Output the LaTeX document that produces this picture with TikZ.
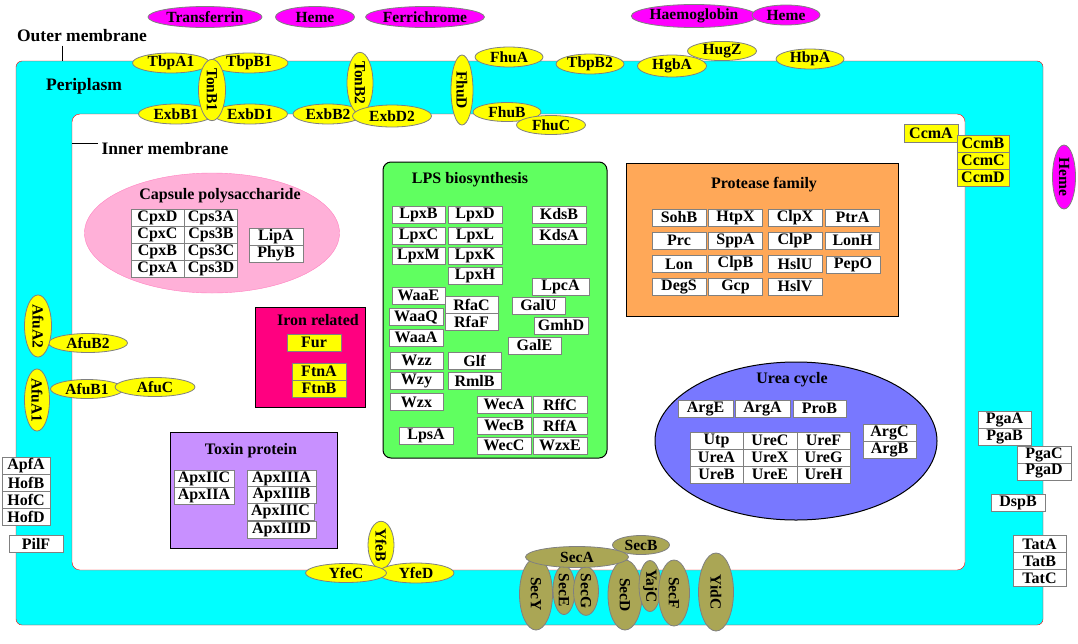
\documentclass[tikz,border=0pt]{standalone}
\usepackage{fontspec}
\setmainfont{Liberation Serif}
\usetikzlibrary{shapes.geometric}
\definecolor{peri}{RGB}{0,255,255}
\definecolor{protyellow}{RGB}{255,255,0}
\definecolor{ligmagenta}{RGB}{255,0,255}
\definecolor{capspink}{RGB}{255,176,216}
\definecolor{capsline}{RGB}{255,128,192}
\definecolor{ironred}{RGB}{255,0,128}
\definecolor{lpsgreen}{RGB}{96,255,96}
\definecolor{protorange}{RGB}{255,168,88}
\definecolor{toxpurple}{RGB}{200,144,255}
\definecolor{ureablue}{RGB}{120,120,255}
\definecolor{secolive}{RGB}{170,166,85}
\definecolor{rimgray}{RGB}{128,128,128}
\newcommand{\elfont}{\bfseries\fontsize{15.5}{15.5}\selectfont}
\newcommand{\bxfont}{\bfseries\fontsize{16}{16}\selectfont}
\newcommand{\hdfont}{\bfseries\fontsize{17.5}{17.5}\selectfont}
\begin{document}
\begin{tikzpicture}[x=1pt,y=-1pt,
  prot/.style={ellipse,draw=rimgray,fill=protyellow,line width=0.8pt,inner sep=0pt,minimum height=20pt,font=\elfont},
  vprot/.style={prot,rotate=-90},
  ligand/.style={ellipse,draw=rimgray,fill=ligmagenta,line width=0.8pt,inner sep=0pt,minimum height=21pt,font=\elfont},
  secp/.style={ellipse,draw=rimgray,fill=secolive,line width=0.8pt,inner sep=0pt,font=\elfont},
  genebox/.style={draw=rimgray,fill=white,line width=0.8pt,inner sep=0pt,minimum width=53pt,minimum height=17pt,font=\bxfont},
  ygenebox/.style={genebox,fill=protyellow},
  grptitle/.style={font=\bxfont},
  grpbox/.style={draw=black,line width=1pt}]
\useasboundingbox (0,0) rectangle (1078,643);
% membranes
\draw[red,fill=peri,rounded corners=6pt] (16,61) rectangle (1043,625);
\draw[red,fill=white,rounded corners=8pt] (72,114) rectangle (965,570);
\node[font=\hdfont] (outer) at (82,36) {Outer membrane};
\coordinate (om) at (62,61);
\draw[line width=1pt] (outer.south -| om) -- (om);
\node[font=\hdfont] (peri) at (84,86) {Periplasm};
\node[font=\hdfont,anchor=west] (inner) at (98,149) {Inner membrane};
\coordinate (im) at (72,143);
\draw[line width=1pt] (im) -- (im -| inner.west);
% ligands
\node[ligand,minimum width=114pt] (Transferrin) at (205,17) {Transferrin};
\node[ligand,minimum width=79pt] (Heme1) at (315,17) {Heme};
\node[ligand,minimum width=116pt] (Ferrichrome) at (425,17) {Ferrichrome};
\node[ligand,minimum width=108pt,minimum height=23pt] (Haemoglobin) at (694,16) {Haemoglobin};
\node[ligand,minimum width=68pt,minimum height=20pt] (Heme2) at (786,15) {Heme};
\node[ligand,rotate=-90,minimum width=64pt,minimum height=23pt] (Heme3) at (1064,177) {Heme};
% transporters on top
\node[prot,minimum width=77pt] (TbpA1) at (171,63) {TbpA1};
\node[prot,minimum width=78pt] (TbpB1) at (249,63) {TbpB1};
\node[prot,minimum width=75pt] (ExbB1) at (176,114) {ExbB1};
\node[prot,minimum width=75pt] (ExbD1) at (250,114) {ExbD1};
\node[vprot,minimum width=60pt,minimum height=27pt] (TonB1) at (212,90) {TonB1};
\node[prot,minimum width=70pt] (ExbB2) at (328,114) {ExbB2};
\node[vprot,minimum width=61pt,minimum height=26pt] (TonB2) at (360,83) {TonB2};
\node[prot,minimum width=79pt,minimum height=22pt] (ExbD2) at (392,116) {ExbD2};
\node[vprot,minimum width=70pt,minimum height=22pt] (FhuD) at (462,90) {FhuD};
\node[prot,minimum width=68pt] (FhuA) at (509,57) {FhuA};
\node[prot,minimum width=68pt,minimum height=19pt] (FhuB) at (507,112) {FhuB};
\node[prot,minimum width=69pt,minimum height=19pt] (FhuC) at (551,125) {FhuC};
\node[prot,minimum width=68pt] (TbpB2) at (590,64) {TbpB2};
\node[prot,minimum width=69pt,minimum height=19pt] (HugZ) at (722,51) {HugZ};
\node[prot,minimum width=69pt,minimum height=22pt] (HgbA) at (672,66) {HgbA};
\node[prot,minimum width=68pt] (HbpA) at (810,59) {HbpA};
\node[ygenebox,minimum width=54pt,minimum height=18pt] (CcmA) at (931,133) {CcmA};
\node[ygenebox,minimum width=52pt] (CcmB) at (983,143.5) {CcmB};
\node[ygenebox,minimum width=52pt] (CcmC) at (983,160.5) {CcmC};
\node[ygenebox,minimum width=52pt] (CcmD) at (983,177.5) {CcmD};
% left side
\node[prot,minimum width=79pt,minimum height=19pt] (AfuB2) at (88,343) {AfuB2};
\node[vprot,minimum width=58pt,minimum height=27pt] (AfuA2) at (38,326) {AfuA2};
\node[prot,minimum width=73pt,minimum height=19pt] (AfuB1) at (87,389) {AfuB1};
\node[prot,minimum width=80pt,minimum height=19pt] (AfuC) at (155,387) {AfuC};
\node[vprot,minimum width=57pt,minimum height=25pt] (AfuA1) at (37,400) {AfuA1};
\node[genebox,minimum width=48pt] (ApfA) at (26,466) {ApfA};
\node[genebox,minimum width=48pt] (HofB) at (26,483) {HofB};
\node[genebox,minimum width=48pt] (HofC) at (26,500) {HofC};
\node[genebox,minimum width=48pt] (HofD) at (26,517) {HofD};
\node[genebox,minimum width=54pt] (PilF) at (36,544) {PilF};
% right side
\node[genebox] (PgaA) at (1004.5,420) {PgaA};
\node[genebox] (PgaB) at (1004.5,437) {PgaB};
\node[genebox,minimum width=54pt] (PgaC) at (1044,454.5) {PgaC};
\node[genebox,minimum width=54pt] (PgaD) at (1044,471.5) {PgaD};
\node[genebox,minimum width=54pt] (DspB) at (1018,502.5) {DspB};
\node[genebox] (TatA) at (1039.5,544) {TatA};
\node[genebox] (TatB) at (1039.5,561) {TatB};
\node[genebox] (TatC) at (1039.5,578) {TatC};
% bottom
\node[vprot,minimum width=42pt,minimum height=26pt] (YfeB) at (381,545) {YfeB};
\node[prot,minimum width=76pt] (YfeD) at (416,573) {YfeD};
\node[prot,minimum width=81pt,minimum height=19pt] (YfeC) at (346,573) {YfeC};
\node[secp,rotate=-90,minimum width=72pt,minimum height=33pt] (SecY) at (536,594) {SecY};
\node[secp,rotate=-90,minimum width=49pt,minimum height=22pt] (SecE) at (564,590) {SecE};
\node[secp,rotate=-90,minimum width=48pt,minimum height=25pt] (SecG) at (586,591) {SecG};
\node[secp,rotate=-90,minimum width=70pt,minimum height=34pt] (SecD) at (625,595) {SecD};
\node[secp,minimum width=57pt,minimum height=19pt] (SecB) at (641,545) {SecB};
\node[secp,minimum width=103pt,minimum height=21pt] (SecA) at (577,557) {SecA};
\node[secp,rotate=-90,minimum width=51pt,minimum height=22pt] (YajC) at (650,586) {YajC};
\node[secp,rotate=-90,minimum width=66pt,minimum height=31pt] (SecF) at (674,593) {SecF};
\node[secp,rotate=-90,minimum width=78pt,minimum height=35pt] (YidC) at (716,592) {YidC};
% capsule polysaccharide
\node[ellipse,draw=capsline,fill=capspink,minimum width=255pt,minimum height=120pt] (caps) at (212,233) {};
\node[grptitle] (capsT) at (220,196) {Capsule polysaccharide};
\node[genebox] (CpxD) at (157.5,217.5) {CpxD};
\node[genebox] (CpxC) at (157.5,234.5) {CpxC};
\node[genebox] (CpxB) at (157.5,251.5) {CpxB};
\node[genebox] (CpxA) at (157.5,268.5) {CpxA};
\node[genebox] (Cps3A) at (211,217.5) {Cps3A};
\node[genebox] (Cps3B) at (211,234.5) {Cps3B};
\node[genebox] (Cps3C) at (211,251.5) {Cps3C};
\node[genebox] (Cps3D) at (211,268.5) {Cps3D};
\node[genebox,minimum width=54pt] (LipA) at (276,236.5) {LipA};
\node[genebox,minimum width=54pt] (PhyB) at (276,253.5) {PhyB};
% iron related
\node[grpbox,fill=ironred,minimum width=110pt,minimum height=100pt] (iron) at (310,357) {};
\node[grptitle] (ironT) at (318,320) {Iron related};
\node[ygenebox,minimum width=54pt] (Fur) at (314,342.5) {Fur};
\node[ygenebox,minimum width=54pt] (FtnA) at (319,371.5) {FtnA};
\node[ygenebox,minimum width=54pt] (FtnB) at (319,388.5) {FtnB};
% toxin protein
\node[grpbox,fill=toxpurple,minimum width=167pt,minimum height=116pt] (toxin) at (253.5,490) {};
\node[grptitle] (toxinT) at (251,451) {Toxin protein};
\node[genebox,minimum width=60pt] (ApxIIC) at (204,478.5) {ApxIIC};
\node[genebox,minimum width=60pt] (ApxIIA) at (204,495.5) {ApxIIA};
\node[genebox,minimum width=69pt] (ApxIIIA) at (281.5,478.5) {ApxIIIA};
\node[genebox,minimum width=69pt] (ApxIIIB) at (281.5,495) {ApxIIIB};
\node[genebox,minimum width=67pt] (ApxIIIC) at (280.5,512) {ApxIIIC};
\node[genebox,minimum width=69pt] (ApxIIID) at (281.5,529.5) {ApxIIID};
% LPS biosynthesis
\node[grpbox,fill=lpsgreen,rounded corners=8pt,minimum width=224pt,minimum height=296pt] (lps) at (495,310) {};
\node[grptitle] (lpsT) at (470,180) {LPS biosynthesis};
\node[genebox] (LpxB) at (418.5,214.5) {LpxB};
\node[genebox,minimum width=54pt] (LpxD) at (475,214.5) {LpxD};
\node[genebox] (LpxC) at (418.5,235.5) {LpxC};
\node[genebox,minimum width=54pt] (LpxL) at (475,235.5) {LpxL};
\node[genebox] (LpxM) at (418.5,256) {LpxM};
\node[genebox,minimum width=54pt] (LpxK) at (475,256) {LpxK};
\node[genebox,minimum width=54pt] (LpxH) at (475,275.5) {LpxH};
\node[genebox,minimum width=54pt] (KdsB) at (559,214.5) {KdsB};
\node[genebox,minimum width=54pt] (KdsA) at (559,235.5) {KdsA};
\node[genebox,minimum width=57pt] (LpcA) at (560.5,287) {LpcA};
\node[genebox] (GalU) at (538.5,305.5) {GalU};
\node[genebox,minimum width=54pt] (GmhD) at (561,325.5) {GmhD};
\node[genebox] (GalE) at (534.5,345.5) {GalE};
\node[genebox] (WaaE) at (418.5,295.5) {WaaE};
\node[genebox] (RfaC) at (471.5,305) {RfaC};
\node[genebox] (RfaF) at (471.5,321.5) {RfaF};
\node[genebox,minimum width=54pt] (WaaQ) at (416,317) {WaaQ};
\node[genebox,minimum width=54pt] (WaaA) at (416,337.5) {WaaA};
\node[genebox] (Wzz) at (416.5,360.5) {Wzz};
\node[genebox] (Glf) at (474.5,360.5) {Glf};
\node[genebox] (Wzy) at (416.5,381) {Wzy};
\node[genebox] (RmlB) at (474.5,381) {RmlB};
\node[genebox] (Wzx) at (416.5,402) {Wzx};
\node[genebox,minimum width=54pt] (LpsA) at (426,435.5) {LpsA};
\node[genebox,minimum width=54pt] (WecA) at (504,404.5) {WecA};
\node[genebox,minimum width=54pt] (RffC) at (560,404.5) {RffC};
\node[genebox,minimum width=54pt] (WecB) at (504,425.5) {WecB};
\node[genebox,minimum width=54pt] (RffA) at (560,425.5) {RffA};
\node[genebox,minimum width=54pt] (WecC) at (504,445.5) {WecC};
\node[genebox,minimum width=54pt] (WzxE) at (560,445.5) {WzxE};
% protease family
\node[grpbox,fill=protorange,minimum width=272pt,minimum height=153pt] (protease) at (762,239.5) {};
\node[grptitle] (proteaseT) at (764,185) {Protease family};
\node[genebox,minimum width=54pt] (SohB) at (679,217.5) {SohB};
\node[genebox,minimum width=54pt] (HtpX) at (735.5,217.5) {HtpX};
\node[genebox,minimum width=54pt] (ClpX) at (795,217.5) {ClpX};
\node[genebox,minimum width=54pt] (PtrA) at (852.5,217.5) {PtrA};
\node[genebox,minimum width=54pt] (Prc) at (679,240.5) {Prc};
\node[genebox,minimum width=54pt] (SppA) at (735.5,240.5) {SppA};
\node[genebox,minimum width=54pt] (ClpP) at (795,240.5) {ClpP};
\node[genebox,minimum width=54pt] (LonH) at (852.5,240.5) {LonH};
\node[genebox,minimum width=54pt] (Lon) at (679,264) {Lon};
\node[genebox,minimum width=54pt] (ClpB) at (735.5,264) {ClpB};
\node[genebox,minimum width=54pt] (HslU) at (795,264) {HslU};
\node[genebox,minimum width=54pt] (PepO) at (853,265) {PepO};
\node[genebox,minimum width=54pt] (DegS) at (679,286.5) {DegS};
\node[genebox,minimum width=54pt] (Gcp) at (735.5,286.5) {Gcp};
\node[genebox,minimum width=54pt] (HslV) at (795,286.5) {HslV};
% urea cycle
\node[ellipse,grpbox,fill=ureablue,minimum width=282pt,minimum height=158pt] (urea) at (796,441) {};
\node[grptitle] (ureaT) at (792,380) {Urea cycle};
\node[genebox,minimum width=55pt] (ArgE) at (705.5,408.5) {ArgE};
\node[genebox,minimum width=55pt] (ArgA) at (762.5,408.5) {ArgA};
\node[genebox] (ProB) at (819.5,408.5) {ProB};
\node[genebox] (ArgC) at (889.5,433) {ArgC};
\node[genebox] (ArgB) at (889.5,450) {ArgB};
\node[genebox] (Utp) at (716.5,440.5) {Utp};
\node[genebox,minimum width=54pt] (UreC) at (770,440.5) {UreC};
\node[genebox] (UreF) at (823.5,440.5) {UreF};
\node[genebox] (UreA) at (716.5,457.5) {UreA};
\node[genebox,minimum width=54pt] (UreX) at (770,457.5) {UreX};
\node[genebox] (UreG) at (823.5,457.5) {UreG};
\node[genebox] (UreB) at (716.5,474.5) {UreB};
\node[genebox,minimum width=54pt] (UreE) at (770,474.5) {UreE};
\node[genebox] (UreH) at (823.5,474.5) {UreH};
\end{tikzpicture}
\end{document}
